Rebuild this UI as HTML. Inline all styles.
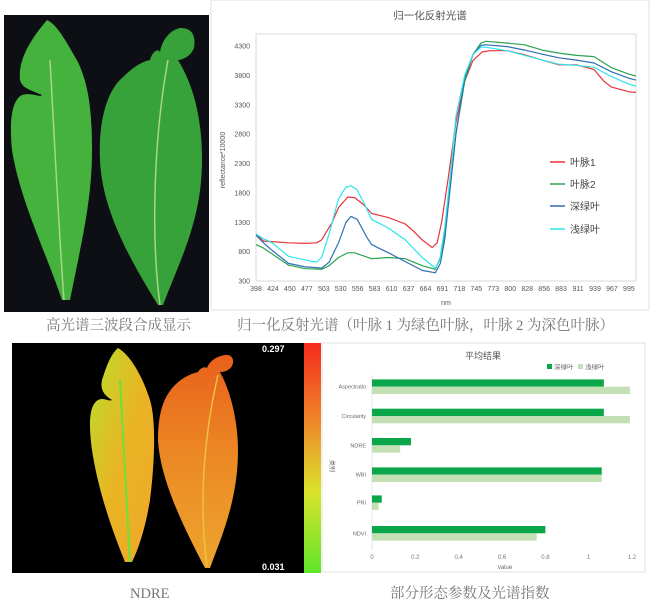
<!DOCTYPE html>
<html><head><meta charset="utf-8"><style>
html,body{margin:0;padding:0;background:#fff;width:650px;height:605px;overflow:hidden}
svg{display:block}
text{font-family:"Liberation Sans","Noto Sans CJK SC",sans-serif}
.cap{font-family:"Liberation Serif","Noto Serif CJK SC",serif;fill:#777;font-size:14.5px}
</style></head><body>
<svg id="s" width="650" height="605" viewBox="0 0 650 605" xmlns="http://www.w3.org/2000/svg">
<defs>
<linearGradient id="cb" x1="0" y1="0" x2="0" y2="1">
<stop offset="0" stop-color="#f42a1c"/><stop offset="0.35" stop-color="#ef8a2a"/><stop offset="0.65" stop-color="#d9e32a"/><stop offset="1" stop-color="#5ee52a"/></linearGradient>
<linearGradient id="lg1" x1="0" y1="0" x2="1" y2="1"><stop offset="0" stop-color="#b8e02a"/><stop offset="0.5" stop-color="#e9b424"/><stop offset="1" stop-color="#f0a82a"/></linearGradient>
<linearGradient id="lg2" x1="0" y1="0" x2="0" y2="1"><stop offset="0" stop-color="#e8601c"/><stop offset="0.5" stop-color="#ec8a25"/><stop offset="1" stop-color="#eca52c"/></linearGradient>
</defs>
<!-- top photo -->
<rect x="4" y="15" width="205" height="297" fill="#0d0f14"/>
<path d="M47,20 C58,25 68,45 78,62 C86,80 92,100 92,150 C92,200 82,240 70,300 L62,300 C45,250 20,200 12,150 C9,120 12,100 22,95 C32,92 40,98 42,95 C30,90 22,88 20,80 C18,60 30,40 47,20 Z" fill="#44b23c"/>
<path d="M180,28 C192,28 196,35 194,48 C190,58 180,60 178,60 C190,80 202,110 202,160 C202,220 180,260 163,305 L158,305 C130,260 102,210 100,160 C98,120 108,90 122,78 C130,70 140,62 150,60 C152,52 158,48 160,52 C162,40 170,30 180,28 Z" fill="#37a23a"/>
<path d="M50,60 C55,150 60,250 64,300" stroke="#a8d68a" stroke-width="1.5" fill="none"/>
<path d="M168,60 C155,130 150,230 160,305" stroke="#a8d68a" stroke-width="1.5" fill="none"/>
<!-- top chart -->
<rect x="211" y="0" width="438" height="310" fill="#fff" stroke="#e2e2e2"/>
<text x="430" y="19" font-size="10.5" fill="#555" text-anchor="middle">归一化反射光谱</text>
<rect x="256" y="34" width="380" height="247" fill="none" stroke="#d9d9d9"/>
<g id="tc" font-size="7" fill="#555"></g>
<text x="225" y="160" font-size="7" fill="#555" transform="rotate(-90 225 160)" text-anchor="middle">reflectance*10000</text>
<text x="446" y="305" font-size="7" fill="#555" text-anchor="middle">nm</text>
<g font-size="10" fill="#444">
<line x1="550" y1="162" x2="565" y2="162" stroke="#e8333a" stroke-width="1.5"/><text x="570" y="166">叶脉1</text>
<line x1="550" y1="184" x2="565" y2="184" stroke="#2aa34e" stroke-width="1.5"/><text x="570" y="188">叶脉2</text>
<line x1="550" y1="206" x2="565" y2="206" stroke="#2f6fb3" stroke-width="1.5"/><text x="570" y="210">深绿叶</text>
<line x1="550" y1="229" x2="565" y2="229" stroke="#2be6ec" stroke-width="1.5"/><text x="570" y="233">浅绿叶</text>
</g>
<text class="cap" x="46" y="330">高光谱三波段合成显示</text>
<text class="cap" x="237" y="330">归一化反射光谱（叶脉 1 为绿色叶脉，叶脉 2 为深色叶脉）</text>
<!-- NDRE -->
<rect x="12" y="343" width="292" height="230" fill="#000"/>
<rect x="304" y="343" width="17" height="230" fill="url(#cb)"/>
<path d="M118,348 C130,355 142,375 150,400 C156,420 155,460 150,500 C145,530 138,550 132,562 L125,562 C112,530 98,490 92,450 C88,420 90,405 98,400 C105,397 108,402 112,400 C104,395 100,390 102,380 C106,368 110,355 118,348 Z" fill="url(#lg1)"/>
<path d="M225,355 C232,354 235,360 232,366 C228,372 222,372 220,372 C230,390 238,420 238,450 C238,500 222,535 210,568 L205,568 C185,530 160,480 158,440 C158,410 165,395 175,385 C182,378 190,374 198,372 C200,368 205,366 207,368 C210,360 218,356 225,355 Z" fill="url(#lg2)"/>
<path d="M120,380 C124,450 128,520 130,562" stroke="#6ee03a" stroke-width="2" fill="none"/>
<path d="M218,375 C205,430 198,500 207,566" stroke="#f0c040" stroke-width="1.5" fill="none"/>
<text x="262" y="352" font-size="9" font-weight="bold" fill="#fff">0.297</text>
<text x="262" y="570" font-size="9" font-weight="bold" fill="#fff">0.031</text>
<text class="cap" x="130" y="598">NDRE</text>
<text class="cap" x="390" y="598">部分形态参数及光谱指数</text>
<!-- bar chart -->
<rect x="322" y="343" width="323" height="229" fill="#fff" stroke="#e2e2e2"/>
<text x="483" y="359" font-size="9" fill="#555" text-anchor="middle">平均结果</text>
<rect x="547" y="364" width="5" height="5" fill="#0aa64a"/><text x="554" y="369" font-size="6.5" fill="#666">深绿叶</text>
<rect x="578" y="364" width="5" height="5" fill="#c3dfb4"/><text x="585" y="369" font-size="6.5" fill="#666">浅绿叶</text>
<g id="bc"></g>
<text x="330" y="460" font-size="6" fill="#666" transform="rotate(90 330 460)">类别</text>
<text x="505" y="569" font-size="6" fill="#666" text-anchor="middle">value</text>
</svg>
<script>
var NS="http://www.w3.org/2000/svg",s=document.getElementById('s');
function el(n,a,t,p){var e=document.createElementNS(NS,n);for(var k in a)e.setAttribute(k,a[k]);if(t!=null)e.textContent=t;(p||s).appendChild(e);return e;}
var tc=document.getElementById('tc');
[300,800,1300,1800,2300,2800,3300,3800,4300].forEach(function(v){var y=281-(v-300)/4000*235;el('text',{x:250,y:y+2.5,'text-anchor':'end'},v,tc);});
[398,424,450,477,503,530,556,583,610,637,664,691,718,745,773,800,828,856,883,911,939,967,995].forEach(function(w,i){el('text',{x:256+i*16.95,y:291,'text-anchor':'middle'},w,tc);});
function X(w){return 256+(w-398)/(995-398)*373;}function Y(v){return 281-(v-300)/4000*235;}
var S={
"#e8333a":[[398,1100],[410,980],[424,970],[450,950],[477,940],[495,950],[503,1000],[520,1300],[530,1550],[545,1730],[556,1720],[570,1600],[583,1450],[610,1380],[637,1270],[650,1150],[664,1000],[680,870],[688,950],[695,1300],[705,2000],[718,3000],[732,3700],[745,4050],[760,4200],[773,4220],[800,4220],[828,4150],[856,4060],[883,3980],[911,3980],[939,3900],[955,3700],[967,3600],[995,3520],[1006,3510]],
"#2aa34e":[[398,920],[410,860],[424,760],[450,570],[477,510],[503,500],[515,560],[530,700],[545,780],[556,780],[583,680],[610,700],[637,680],[664,560],[685,500],[693,700],[700,1100],[710,2000],[718,2800],[732,3700],[745,4150],[758,4350],[766,4380],[800,4350],[828,4320],[856,4230],[883,4180],[911,4140],[939,4120],[967,3930],[995,3820],[1006,3790]],
"#2f6fb3":[[398,1080],[410,950],[424,820],[450,600],[477,540],[503,520],[515,620],[530,950],[542,1300],[550,1400],[560,1350],[575,1050],[583,920],[610,780],[637,630],[664,480],[685,440],[693,600],[700,1000],[710,2000],[718,2800],[732,3750],[745,4150],[758,4310],[766,4320],[800,4290],[828,4230],[856,4160],[883,4100],[911,4060],[939,4010],[967,3860],[995,3750],[1006,3720]],
"#2be6ec":[[398,1100],[410,1020],[424,950],[450,720],[477,660],[495,620],[503,700],[515,1100],[530,1700],[542,1900],[550,1920],[560,1850],[572,1600],[583,1350],[610,1200],[637,1000],[664,700],[685,520],[692,650],[700,1200],[710,2200],[718,3100],[732,3800],[745,4150],[758,4280],[766,4280],[800,4220],[828,4140],[856,4060],[883,3990],[911,3970],[939,3940],[967,3780],[995,3650],[1006,3620]]};
for(var c in S){el('polyline',{points:S[c].map(function(p){return X(p[0]).toFixed(1)+','+Y(p[1]).toFixed(1)}).join(' '),fill:'none',stroke:c,'stroke-width':1.2,'stroke-linejoin':'round'});}
var bc=document.getElementById('bc');
function BX(v){return 372+v*216.7;}
[0,0.2,0.4,0.6,0.8,1,1.2].forEach(function(v){el('text',{x:BX(v),y:559,'font-size':6,fill:'#777','text-anchor':'middle'},v,bc);});
el('line',{x1:372,y1:375,x2:372,y2:550,stroke:'#ddd','stroke-width':0.7},null,bc);
[["Aspectratio",386.7,1.07,1.19],["Circularity",416,1.07,1.19],["NDRE",445.3,0.18,0.13],["WBI",474.7,1.06,1.06],["PRI",502.7,0.045,0.03],["NDVI",533.3,0.80,0.76]].forEach(function(d){
el('rect',{x:372,y:d[1]-7.3,width:d[2]*216.7,height:7.3,fill:'#0aa64a'},null,bc);
el('rect',{x:372,y:d[1],width:d[3]*216.7,height:7.3,fill:'#c3dfb4'},null,bc);
el('text',{x:366,y:d[1]+2,'font-size':5.5,fill:'#666','text-anchor':'end'},d[0],bc);});
</script>
</body></html>
